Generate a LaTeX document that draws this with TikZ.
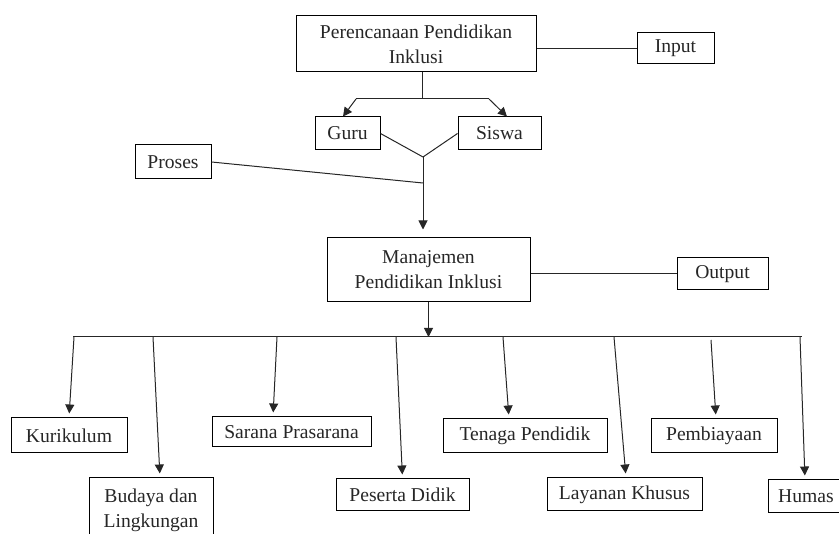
\documentclass[tikz,border=0pt]{standalone}
\usepackage{fontspec}
\setmainfont{Liberation Serif}
\usetikzlibrary{arrows.meta}
\tikzset{
    kotak/.style={draw, line width=1pt, inner sep=0pt, align=center, text=black!85},
    garis/.style={line width=1pt, black!85},
    panah/.style={garis, -{Triangle[width=9pt,length=9pt]}}
}
\begin{document}
\begin{tikzpicture}[x=1pt, y=-1pt, font=\fontsize{19.6}{25}\selectfont]
        \useasboundingbox (0,0) rectangle (839,534);
        % Draw input part

        \node (rencana) at (416,44) [kotak, minimum width=240, minimum height=56] {Perencanaan Pendidikan\\Inklusi};
        \node (input) at (675.5,48.5) [kotak, minimum width=77, minimum height=31] {Input};
        \draw[garis] (input.west) -- (input.west -| rencana.east);

        % Draw guru and siswa
        \node (guru) at (347.5,133.5) [kotak, minimum width=65, minimum height=33] {Guru};
        \node (siswa) at (499.5,133.5) [kotak, minimum width=83, minimum height=33] {Siswa};
        \coordinate (cabang) at (422,99);
        \coordinate (kiri) at (356,99);
        \coordinate (kanan) at (489,99);
        \draw[garis] (rencana.south -| cabang) -- (cabang);
        \draw[garis] (kiri) -- (kanan);
        \draw[panah] (kiri) -- ([xshift=-4.5]guru.north);
        \draw[panah] (kanan) -- ([xshift=7.5]siswa.north);

        % Draw proses part
        \node (proses) at (173,162) [kotak, minimum width=76, minimum height=34] {Proses};
        \coordinate (temu) at (423,157);
        \coordinate (titik) at (423,183);
        \draw[garis] (guru.east) -- (temu);\draw[garis] (siswa.west) -- (temu);
        \draw[garis] (proses.east) -- (titik);

        % Draw output part
        \node (manajemen) at (428.5,270) [kotak, minimum width=203, minimum height=64] {Manajemen\\Pendidikan Inklusi};
        \node (output) at (722.5,274) [kotak, minimum width=91, minimum height=32] {Output};
        \draw[panah, shorten >=8pt] (temu) -- (manajemen.north -| temu);
        \draw[garis] (output.west) -- (output.west -| manajemen.east);

        % Draw the bus line
        \coordinate (busL) at (73,337);
        \coordinate (busR) at (802,337);
        \draw[garis] (busL) -- (busR);
        \draw[panah] (manajemen.south) -- (manajemen.south |- busL);

        % Boxes below the bus
        \node (kurikulum) at (69,435.5) [kotak, minimum width=116, minimum height=35] {Kurikulum};
        \node (budaya) at (151,510) [kotak, minimum width=124, minimum height=64] {Budaya dan\\Lingkungan};
        \node (sarana) at (291.5,432) [kotak, minimum width=159, minimum height=30] {Sarana Prasarana};
        \node (peserta) at (402.5,495) [kotak, minimum width=133, minimum height=32] {Peserta Didik};
        \node (tenaga) at (525,436) [kotak, minimum width=164, minimum height=34] {Tenaga Pendidik};
        \node (layanan) at (624.5,494.5) [kotak, minimum width=155, minimum height=33] {Layanan Khusus};
        \node (biaya) at (714,436) [kotak, minimum width=126, minimum height=34] {Pembiayaan};
        \node (humas) at (806,496.5) [kotak, minimum width=76, minimum height=33] {Humas};

        % Arrows from the bus
        \foreach \mulai/\turun/\geser/\kotak in {74/337/0/kurikulum, 153/337/9/budaya, 277/337/-18.5/sarana, 396/337/0/peserta, 503/337/-16/tenaga, 614/337/1.5/layanan, 711/340/2/biaya, 800/337/-1/humas}
        {
            \coordinate (b-\kotak) at (\mulai,\turun);
            \draw[panah, shorten >=4pt] (b-\kotak) -- ([xshift=\geser]\kotak.north);
        }
\end{tikzpicture}
\end{document}
